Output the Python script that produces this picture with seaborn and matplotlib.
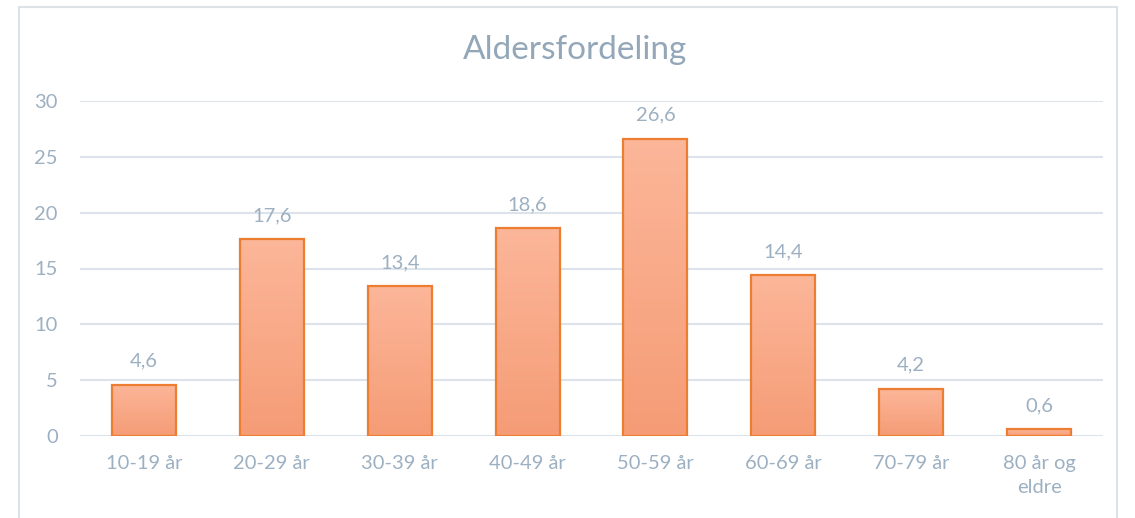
import numpy as np
import pandas as pd
import matplotlib
matplotlib.use("Agg")
import matplotlib.pyplot as plt
import seaborn as sns
from matplotlib.patches import Rectangle
from matplotlib.colors import LinearSegmentedColormap

categories = ["10-19 år", "20-29 år", "30-39 år", "40-49 år", "50-59 år",
              "60-69 år", "70-79 år", "80 år og\neldre"]
values = [4.6, 17.6, 13.4, 18.6, 26.6, 14.4, 4.2, 0.6]
labels = ["4,6", "17,6", "13,4", "18,6", "26,6", "14,4", "4,2", "0,6"]
yticks = [0, 5, 10, 15, 20, 25, 30]
title = "Aldersfordeling"

sns.set_theme(style="white")
plt.rcParams['font.family'] = ['Lato', 'DejaVu Sans']

text_col = "#9DB0C2"
grid_col = "#DCE3EA"

fig = plt.figure(figsize=(11.35, 5.18), dpi=100)
ax = fig.add_axes([80/1135, 1-436/518, 1023/1135, 335/518])

df = pd.DataFrame({"cat": categories, "val": values})
sns.barplot(data=df, x="cat", y="val", ax=ax, width=0.5, color="#F8A883",
            edgecolor="#ED7D31", linewidth=1.6, zorder=3)

cmap = LinearSegmentedColormap.from_list("g", ["#F59C76", "#FCB699"])
grad = np.linspace(0, 1, 256).reshape(-1, 1)
for p in ax.patches:
    x0, y0 = p.get_x(), p.get_y()
    w, h = p.get_width(), p.get_height()
    im = ax.imshow(grad, cmap=cmap, origin="lower", aspect="auto",
                   extent=[x0, x0 + w, y0, y0 + h], zorder=3.5)
    im.set_clip_path(p)
    p.set_facecolor("none")
    p.set_zorder(4)

ax.set_xlim(-0.5, len(categories) - 0.5)
ax.set_ylim(0, 30)
ax.set_yticks(yticks)
ax.set_yticklabels([str(t) for t in yticks])
ax.set_xlabel("")
ax.set_ylabel("")
for s in ax.spines.values():
    s.set_visible(False)
ax.grid(axis="y", color=grid_col, linewidth=1.5, zorder=0)
ax.set_axisbelow(True)
ax.tick_params(axis="both", length=0, colors=text_col, labelsize=14.5)
ax.tick_params(axis="y", pad=16)
ax.tick_params(axis="x", pad=14)
for t in ax.get_xticklabels():
    t.set_linespacing(1.45)

for i, (v, lab) in enumerate(zip(values, labels)):
    ax.annotate(lab, (i, v), xytext=(0, 11), textcoords="offset points",
                ha="center", va="bottom", color=text_col, fontsize=14.5)

fig.text(575/1135, 1-50/518, title, ha="center", va="center",
         color="#93A7B9", fontsize=24)

fig.patches.append(Rectangle((19/1135, -0.05), 1098/1135, 1.05 - 7/518,
                             transform=fig.transFigure, fill=False,
                             edgecolor="#DDE2E7", linewidth=1.5))

fig.savefig("out.png", dpi=100)
